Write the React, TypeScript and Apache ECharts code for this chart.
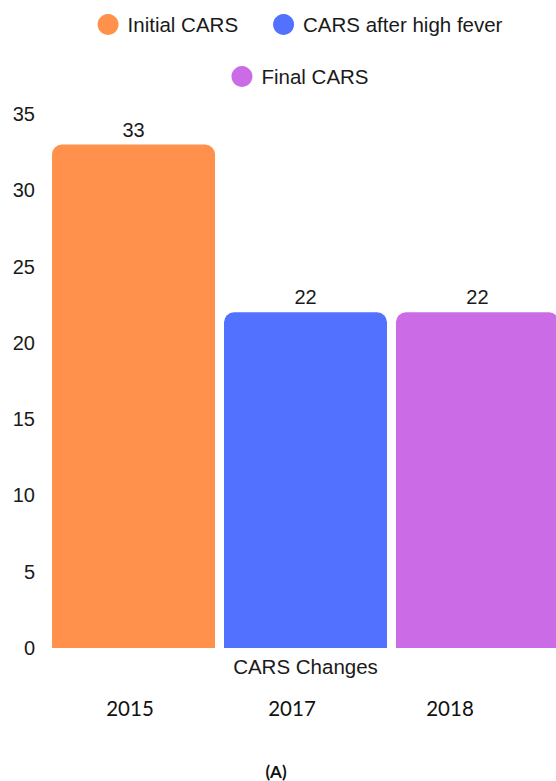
import React, { useEffect, useRef } from "react";
import * as echarts from "echarts";

const category = ["CARS Changes"];
const seriesNames = ["Initial CARS", "CARS after high fever", "Final CARS"];
const seriesValues = [33, 22, 22];
const seriesColors = ["#FF914D", "#5271FF", "#CB6CE6"];
const yearLabels = ["2015", "2017", "2018"];
const panelLabel = "(A)";

export default function App() {
  const ref = useRef<HTMLDivElement>(null);
  useEffect(() => {
    if (!ref.current) return;
    const chart = echarts.init(ref.current, null, { renderer: "svg" });
    const yearX = [130, 292, 450];
    const legendBase = {
      left: "center",
      icon: "circle",
      itemWidth: 21,
      itemHeight: 21,
      itemGap: 35,
      textStyle: { fontSize: 20.5, color: "#1a1a1a", padding: [0, 4, 0, 4] },
    };
    chart.setOption({
      animation: false,
      textStyle: { fontFamily: "Liberation Sans, Arial, sans-serif" },
      legend: [
        { ...legendBase, data: seriesNames.slice(0, 2), top: 9 },
        { ...legendBase, data: seriesNames.slice(2), top: 61 },
      ],
      grid: { left: 47, right: 36, top: 114, bottom: 133, containLabel: false },
      xAxis: {
        type: "category",
        data: category,
        axisLine: { show: false },
        axisTick: { show: false },
        axisLabel: { fontSize: 20.5, color: "#1a1a1a", margin: 8 },
      },
      yAxis: {
        type: "value",
        min: 0,
        max: 35,
        interval: 5,
        splitLine: { show: false },
        axisLine: { show: false },
        axisTick: { show: false },
        axisLabel: { fontSize: 20, color: "#1a1a1a", margin: 12 },
      },
      series: seriesNames.map((name, i) => ({
        name,
        type: "bar",
        barWidth: 163,
        barGap: "5.5%",
        data: [seriesValues[i]],
        itemStyle: { color: seriesColors[i], borderRadius: [10, 10, 0, 0] },
        label: { show: true, position: "top", fontSize: 20, color: "#1a1a1a", distance: 5 },
      })),
      graphic: [
        ...yearLabels.map((t, i) => ({
          type: "text",
          x: yearX[i],
          y: 708,
          style: {
            text: t,
            fontSize: 20.5,
            fontFamily: "Lato, sans-serif",
            fill: "#111",
            textAlign: "center",
            textVerticalAlign: "middle",
          },
        })),
        {
          type: "text",
          x: 276,
          y: 771,
          style: {
            text: panelLabel,
            fontSize: 17,
            fontWeight: "bold",
            fontFamily: "Lato, sans-serif",
            fill: "#111",
            textAlign: "center",
            textVerticalAlign: "middle",
          },
        },
      ],
    });
    return () => chart.dispose();
  }, []);
  return (
    <div style={{ position: "absolute", left: 0, top: 0, width: 556, height: 781, overflow: "hidden", background: "#fff" }}>
      <div ref={ref} style={{ width: 600, height: 781 }} />
    </div>
  );
}
